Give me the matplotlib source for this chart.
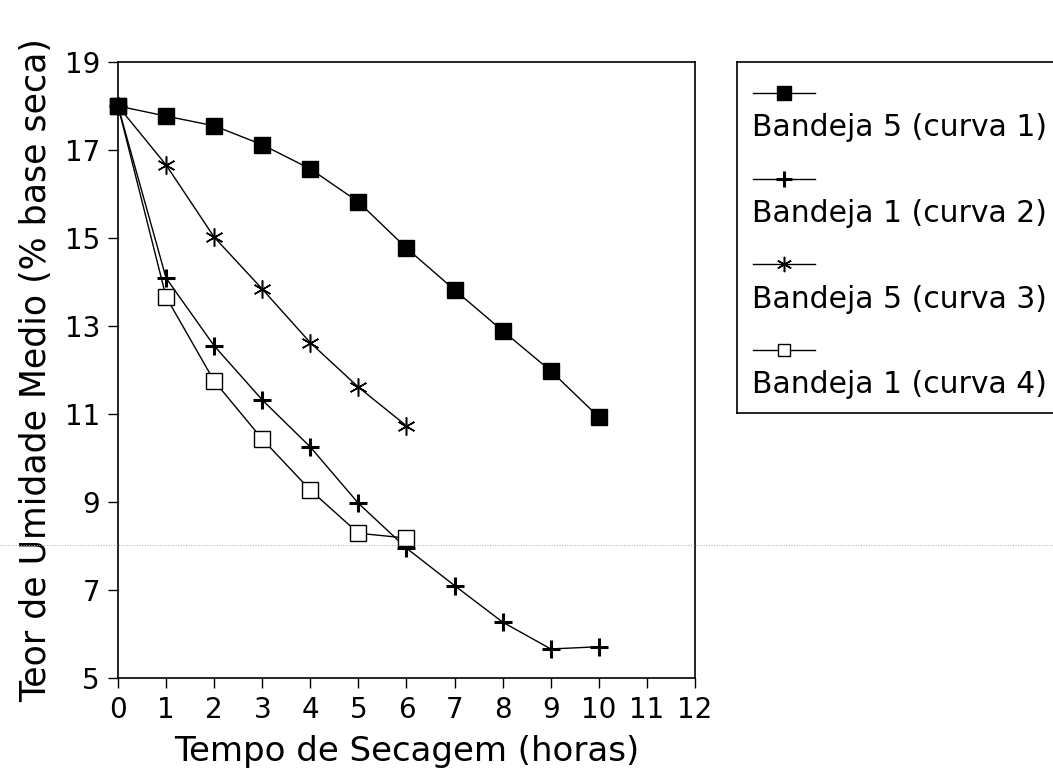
import matplotlib.pyplot as plt
from matplotlib.lines import Line2D


# 干燥时间（小时）
hours_10 = [0, 1, 2, 3, 4, 5, 6, 7, 8, 9, 10]
hours_6 = [0, 1, 2, 3, 4, 5, 6]

# 各曲线的平均含水率（% 干基）
curva1 = [18.0, 17.77, 17.55, 17.12, 16.57, 15.82, 14.77, 13.82, 12.89, 11.98, 10.93]
curva2 = [18.0, 14.09, 12.55, 11.32, 10.25, 8.97, 7.95, 7.10, 6.27, 5.66, 5.71]
curva3 = [18.0, 16.66, 15.02, 13.84, 12.62, 11.61, 10.73]
curva4 = [18.0, 13.66, 11.75, 10.43, 9.27, 8.29, 8.18]

legend_labels = [
    "Bandeja 5 (curva 1)",
    "Bandeja 1 (curva 2)",
    "Bandeja 5 (curva 3)",
    "Bandeja 1 (curva 4)",
]

x_ticks = list(range(0, 13))
y_ticks = [5, 7, 9, 11, 13, 15, 17, 19]

W, H = 1053, 773
fig = plt.figure(figsize=(W / 100, H / 100), dpi=100)
fig.patch.set_facecolor("white")

ax = fig.add_axes([118 / W, (H - 678) / H, (695 - 118) / W, (678 - 62) / H])

styles = [
    dict(marker="s", markersize=11.5, markerfacecolor="black", markeredgecolor="black"),
    dict(marker="+", markersize=13, markeredgewidth=2.2, markeredgecolor="black"),
    dict(marker=(6, 2, 0), markersize=13, markeredgewidth=1.1, markeredgecolor="black"),
    dict(marker="s", markersize=11, markerfacecolor="white", markeredgecolor="black", markeredgewidth=1.0),
]
series = [(hours_10, curva1), (hours_10, curva2), (hours_6, curva3), (hours_6, curva4)]
zorders = [5, 3, 3, 3]  # 实心方块画在最上面，起点处可见

for (xs, ys), st, z in zip(series, styles, zorders):
    ax.plot(xs, ys, color="black", linewidth=1.0, clip_on=False, zorder=z, **st)

ax.set_xlim(0, 12)
ax.set_ylim(5, 19)
ax.set_xticks(x_ticks)
ax.set_yticks(y_ticks)
ax.tick_params(direction="out", length=7, width=1, labelsize=20, pad=6)
for sp in ax.spines.values():
    sp.set_linewidth(1.2)

ax.set_xlabel("Tempo de Secagem (horas)", fontsize=24.5, labelpad=8)
ax.set_ylabel("Teor de Umidade Medio (% base seca)", fontsize=25, labelpad=8)

# 扫描件上那条浅灰色横线
fig.add_artist(Line2D([0, 1], [(H - 545) / H] * 2, transform=fig.transFigure,
                      color="#aaaaaa", linewidth=0.7, linestyle=":"))

# 图例框：标记单独一行，文字在下一行
leg = fig.add_axes([737 / W, (H - 413) / H, (1070 - 737) / W, (413 - 62) / H])
leg.set_xlim(0, 333)
leg.set_ylim(351, 0)
leg.set_xticks([])
leg.set_yticks([])
for sp in leg.spines.values():
    sp.set_linewidth(1.2)

for i, (label, st) in enumerate(zip(legend_labels, styles)):
    y0 = 31 + i * 85.5
    leg.plot([16, 78], [y0, y0], color="black", linewidth=1.0)
    st_small = dict(st)
    st_small["markersize"] = st["markersize"] * 0.85
    leg.plot([47], [y0], color="black", linestyle="none", **st_small)
    leg.text(15, y0 + 35, label, fontsize=21.5, ha="left", va="center")

fig.savefig("out.png", dpi=100)
